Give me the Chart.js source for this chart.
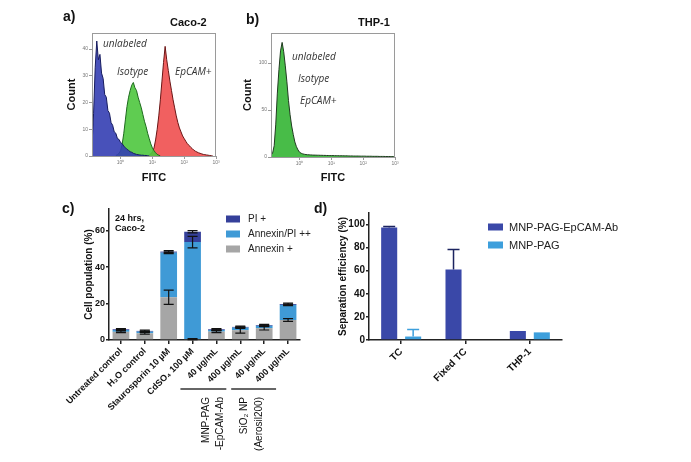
<!DOCTYPE html>
<html lang="en">
<head>
<meta charset="utf-8" />
<title>EpCAM capture figure</title>
<script src="https://cdn.jsdelivr.net/npm/chart.js@4.4.4/dist/chart.umd.min.js"></script>
<style>
  body { margin: 0; background: #fff; font-family: "Liberation Sans", Arial, sans-serif; }
  #fig { position: relative; width: 691px; height: 462px; overflow: hidden; }
  #fig canvas { position: absolute; }
  .txt { position: absolute; white-space: nowrap; color: #111; line-height: 1; }
  .lbl { font-weight: bold; font-size: 14px; }
  .ttl { font-weight: bold; font-size: 11px; }
  .it { font-style: italic; color: #333; font-family: "Open Sans", sans-serif; font-size: 10px; }
</style>
</head>
<body>
<div id="fig">
  <canvas id="chartA" width="170" height="200" style="left:60px;top:0px"></canvas>
  <canvas id="chartB" width="170" height="200" style="left:230px;top:0px"></canvas>
  <canvas id="chartC" width="290" height="267" style="left:60px;top:195px"></canvas>
  <canvas id="chartD" width="326" height="267" style="left:334px;top:195px"></canvas>

  <div class="txt lbl" style="left:63px;top:9px">a)</div>
  <div class="txt ttl" style="left:170px;top:17px">Caco-2</div>
  <div class="txt it" style="left:103px;top:38px">unlabeled</div>
  <div class="txt it" style="left:117px;top:66px">Isotype</div>
  <div class="txt it" style="left:175px;top:66px">EpCAM+</div>

  <div class="txt lbl" style="left:246px;top:12px">b)</div>
  <div class="txt ttl" style="left:358px;top:17px">THP-1</div>
  <div class="txt it" style="left:292px;top:51px">unlabeled</div>
  <div class="txt it" style="left:298px;top:73px">Isotype</div>
  <div class="txt it" style="left:300px;top:95px">EpCAM+</div>

  <div class="txt lbl" style="left:62px;top:201px">c)</div>
  <div class="txt" style="left:115px;top:213px;font-size:9px;font-weight:bold;line-height:10px">24 hrs,<br>Caco-2</div>
  <div class="txt lbl" style="left:314px;top:201px">d)</div>
</div>

<script>
  // --- a) / b) flow histograms, x in log10(FITC) ---
  const logBins = [
    -0.90, -0.85, -0.80, -0.75, -0.70, -0.65, -0.60, -0.55, -0.50, -0.45,
    -0.40, -0.35, -0.30, -0.25, -0.20, -0.15, -0.10, -0.05, 0.00, 0.05,
    0.10, 0.15, 0.20, 0.25, 0.30, 0.35, 0.40, 0.45, 0.50, 0.55,
    0.60, 0.65, 0.70, 0.75, 0.80, 0.85, 0.90, 0.95, 1.00, 1.05,
    1.10, 1.15, 1.20, 1.25, 1.30, 1.35, 1.40, 1.45, 1.50, 1.55,
    1.60, 1.65, 1.70, 1.75, 1.80, 1.85, 1.90, 1.95, 2.00, 2.05,
    2.10, 2.15, 2.20, 2.25, 2.30, 2.35, 2.40, 2.45, 2.50, 2.55,
    2.60, 2.65, 2.70, 2.75, 2.80, 2.85, 2.90, 2.95, 3.00
  ];
  const decades = [0, 1, 2, 3];
  const decadeLabels = ['10⁰', '10¹', '10²', '10³'];

  const cacoUnlabeled = [
    4, 16, 33, 43, 36, 38, 31, 29, 23, 22,
    17, 16, 12.5, 11.5, 9, 8.5, 6.5, 6.2, 5, 4.6,
    3.7, 3.1, 2.5, 2.1, 1.6, 1.4, 1.0, 0.8, 0.6, 0.5,
    0.4, 0.3, 0.3, 0.2, 0.2, 0.1, 0, null, null, null,
    null, null, null, null, null, null, null, null, null, null,
    null, null, null, null, null, null, null, null, null, null,
    null, null, null, null, null, null, null, null, null, null,
    null, null, null, null, null, null, null, null, null
  ];
  const cacoIsotype = [
    null, null, null, null, null, null, null, null, null, null,
    null, null, null, null, null, 0.2, 0.5, 1, 2, 4.5,
    8.5, 13.5, 18.5, 22, 24.5, 26.5, 27.5, 25.5, 24.5, 22,
    20, 18, 15.5, 13, 11, 8.5, 6.5, 4.5, 3, 2,
    1.2, 0.6, 0.3, 0, null, null, null, null, null, null,
    null, null, null, null, null, null, null, null, null, null,
    null, null, null, null, null, null, null, null, null, null,
    null, null, null, null, null, null, null, null, null
  ];
  const cacoEpcam = [
    null, null, null, null, null, null, null, null, null, null,
    null, null, null, null, null, null, null, null, null, null,
    null, null, null, null, null, null, null, null, null, null,
    null, null, null, null, null, null, 0.3, 0.8, 1.5, 3,
    6, 10, 15, 21, 28, 35, 41, 36, 32, 28,
    24.5, 21, 18, 15, 12.5, 10.5, 9, 7.5, 6.5, 5.5,
    4.6, 4, 3.3, 2.8, 2.2, 1.8, 1.5, 1.2, 1, 0.8,
    0.6, 0.5, 0.4, 0.3, 0.2, 0.1, 0, null, null
  ];
  const thpCounts = [
    2, 4, 12, 35, 68, 93, 113, 122, 112, 97,
    80, 60, 45, 33, 24, 16, 11, 7.5, 5, 4,
    3.3, 2.9, 2.6, 2.4, 2.3, 2.2, 2.1, 2, 2, 1.9,
    1.9, 1.8, 1.8, 1.7, 1.7, 1.6, 1.6, 1.5, 1.5, 1.5,
    1.4, 1.4, 1.4, 1.3, 1.3, 1.3, 1.2, 1.2, 1.2, 1.1,
    1.1, 1.1, 1, 1, 1, 1, 0.9, 0.9, 0.9, 0.9,
    0.8, 0.8, 0.8, 0.8, 0.7, 0.7, 0.7, 0.7, 0.6, 0.6,
    0.6, 0.6, 0.5, 0.5, 0.5, 0.5, 0.4, 0.4, 0.4
  ];

  // --- c) viability, stacked ---
  const treatments = ['Untreated control', 'H₂O control', 'Staurosporin 10 µM', 'CdSO₄ 100 µM',
    '40 µg/mL', '400 µg/mL', '40 µg/mL', '400 µg/mL'];
  const annexinOnly = [4.5, 3.7, 23.5, 0.5, 4.6, 5.4, 6.5, 11];
  const annexinPi = [1.0, 0.9, 24.5, 53.3, 0.9, 1.4, 1.3, 8.3];
  const piOnly = [0.4, 0.4, 0.6, 5.7, 0.4, 0.4, 0.4, 0.5];
  const annexinOnlySd = [0.5, 0.5, 3.9, 0.3, 0.5, 1.6, 1.0, 0.8];
  const annexinPiSd = [0.3, 0.3, 0.5, 3.2, 0.4, 0.4, 0.4, 0.4];
  const piOnlySd = [0.4, 0.4, 0.6, 0.6, 0.4, 0.4, 0.4, 0.5];
  const groupNames = [['MNP-PAG', '-EpCAM-Ab'], ['SiO₂ NP', '(Aerosil200)']];
  const groupSpans = [[4, 5], [6, 7]];

  // --- d) separation efficiency ---
  const cellTypes = ['TC', 'Fixed TC', 'THP-1'];
  const effAb = [97.5, 61, 7.8];
  const effPlain = [3, 0, 6.6];
  const effAbSd = [0.8, 17.4, 0];
  const effPlainSd = [6.2, 0, 0];

  Chart.defaults.font.family = '"Liberation Sans", Arial, sans-serif';
  Chart.defaults.color = '#111';
  Chart.defaults.animation = false;
  Chart.defaults.plugins.legend.display = false;
  Chart.defaults.plugins.tooltip.enabled = false;

  const framePlugin = {
    id: 'frame',
    afterDraw(chart) {
      const a = chart.chartArea, ctx = chart.ctx;
      ctx.save();
      ctx.strokeStyle = '#9a9a9a';
      ctx.lineWidth = 1;
      ctx.strokeRect(a.left + 0.5, a.top + 0.5, a.right - a.left - 1, a.bottom - a.top);
      ctx.restore();
    }
  };

  const errorBarPlugin = {
    id: 'errorBars',
    afterDatasetsDraw(chart, args, o) {
      const ctx = chart.ctx, y = chart.scales.y;
      chart.data.datasets.forEach((ds, di) => {
        if (!ds.errors) return;
        chart.getDatasetMeta(di).data.forEach((bar, i) => {
          const sd = ds.errors[i];
          if (!sd) return;
          const d = y.getPixelForValue(0) - y.getPixelForValue(sd);
          const hi = bar.y - d, lo = o.mode === 'up' ? bar.y : bar.y + d;
          ctx.save();
          ctx.strokeStyle = ds.errColor || o.color;
          ctx.lineWidth = o.width;
          ctx.beginPath();
          ctx.moveTo(bar.x, lo); ctx.lineTo(bar.x, hi);
          ctx.moveTo(bar.x - o.cap, hi); ctx.lineTo(bar.x + o.cap, hi);
          if (o.mode !== 'up') { ctx.moveTo(bar.x - o.cap, lo); ctx.lineTo(bar.x + o.cap, lo); }
          ctx.stroke();
          ctx.restore();
        });
      });
    }
  };

  const boxLegendPlugin = {
    id: 'boxLegend',
    afterDraw(chart, args, o) {
      const ctx = chart.ctx;
      let items = chart.data.datasets.map(d => ({ text: d.label, color: d.backgroundColor }));
      if (o.reverse) items = items.reverse();
      ctx.save();
      ctx.font = o.font;
      ctx.textBaseline = 'middle';
      items.forEach((it, k) => {
        const cy = o.y + k * o.rowH;
        ctx.fillStyle = it.color;
        ctx.fillRect(o.x, cy - o.boxH / 2, o.boxW, o.boxH);
        ctx.fillStyle = '#222';
        ctx.fillText(it.text, o.x + o.boxW + o.gap, cy + 0.5);
      });
      ctx.restore();
    }
  };

  // brackets + vertical group names under panel c
  const groupPlugin = {
    id: 'groups',
    afterDraw(chart, args, o) {
      const x = chart.scales.x, ctx = chart.ctx;
      ctx.save();
      ctx.strokeStyle = '#333';
      ctx.lineWidth = 1.5;
      ctx.fillStyle = '#111';
      ctx.font = o.font;
      ctx.textAlign = 'right';
      ctx.textBaseline = 'middle';
      groupSpans.forEach((span, g) => {
        const p0 = x.getPixelForValue(span[0]), p1 = x.getPixelForValue(span[1]);
        ctx.beginPath();
        ctx.moveTo(p0 + o.lineFrom[g], o.lineY);
        ctx.lineTo(p1 + o.lineTo[g], o.lineY);
        ctx.stroke();
        groupNames[g].forEach((t, k) => {
          ctx.save();
          ctx.translate(p0 + o.textDx[g][k], o.textY);
          ctx.rotate(-Math.PI / 2);
          ctx.fillText(t, 0, 0);
          ctx.restore();
        });
      });
      ctx.restore();
    }
  };

  function histSet(label, counts, fill, edge) {
    const pts = [];
    counts.forEach((c, i) => { if (c !== null) pts.push({ x: logBins[i], y: c }); });
    return { label, data: pts, backgroundColor: fill, borderColor: edge, borderWidth: 1,
      fill: 'origin', pointRadius: 0, tension: 0 };
  }

  function logAxis(height, titlePad) {
    return {
      type: 'linear', min: -0.9, max: 3,
      afterBuildTicks: s => { s.ticks = decades.map(v => ({ value: v })); },
      ticks: { font: { size: 5 }, color: '#777', padding: 1, callback: (v, i) => decadeLabels[i] },
      grid: { drawOnChartArea: false, tickLength: 3, color: '#9a9a9a' },
      border: { color: '#9a9a9a' },
      title: { display: true, text: 'FITC', font: { size: 11, weight: 'bold' }, color: '#111',
        padding: { top: 0, bottom: titlePad } },
      afterFit: s => { s.height = height; }
    };
  }

  function countAxis(max, step, width, titlePad) {
    return {
      min: 0, max: max,
      ticks: { stepSize: step, includeBounds: false, font: { size: 5 }, color: '#777', padding: 1 },
      grid: { drawOnChartArea: false, tickLength: 3, color: '#9a9a9a' },
      border: { color: '#9a9a9a' },
      title: { display: true, text: 'Count', font: { size: 11, weight: 'bold' }, color: '#111',
        padding: { top: titlePad, bottom: 0 } },
      afterFit: s => { s.width = width; }
    };
  }

  new Chart(document.getElementById('chartA'), {
    type: 'line',
    data: { datasets: [
      histSet('unlabeled', cacoUnlabeled, 'rgba(52,62,178,0.9)', '#161b5e'),
      histSet('Isotype', cacoIsotype, 'rgba(78,198,62,0.9)', '#1d6a1d'),
      histSet('EpCAM+', cacoEpcam, 'rgba(240,82,82,0.92)', '#6a1414')
    ] },
    options: {
      responsive: false,
      layout: { padding: { top: 33, right: 14, left: 0, bottom: 0 } },
      scales: { x: logAxis(44, 15), y: countAxis(46, 10, 32, 5) }
    },
    plugins: [framePlugin]
  });

  new Chart(document.getElementById('chartB'), {
    type: 'line',
    data: { datasets: [
      histSet('unlabeled / Isotype / EpCAM+', thpCounts, 'rgba(62,184,62,0.95)', '#1f3a1f')
    ] },
    options: {
      responsive: false,
      layout: { padding: { top: 33, right: 5, left: 0, bottom: 0 } },
      scales: { x: logAxis(43, 15), y: countAxis(132, 50, 41, 11) }
    },
    plugins: [framePlugin]
  });

  const prismX = (size, height) => ({
    grid: { display: true, drawOnChartArea: false, offset: false, tickLength: 4, color: '#222', lineWidth: 1.5 },
    border: { color: '#222', width: 1.5 },
    ticks: { minRotation: 45, maxRotation: 45, autoSkip: false, font: { size: size, weight: 'bold' }, padding: 2 },
    afterFit: s => { s.height = height; s.paddingLeft = 0; s.paddingRight = 0; }
  });

  const prismY = (max, size, title, titlePad, width) => ({
    min: 0, max: max,
    ticks: { stepSize: 20, includeBounds: false, font: { size: size, weight: 'bold' }, padding: 1 },
    grid: { drawOnChartArea: false, tickLength: 3, color: '#222', lineWidth: 1.5 },
    border: { color: '#222', width: 1.5 },
    title: { display: true, text: title, font: { size: 10, weight: 'bold' }, padding: { top: titlePad, bottom: 0 } },
    afterFit: s => { s.width = width; }
  });

  const xC = prismX(9, 122); xC.stacked = true;
  const yC = prismY(72, 9, 'Cell population (%)', 23, 49); yC.stacked = true;

  new Chart(document.getElementById('chartC'), {
    type: 'bar',
    data: {
      labels: treatments,
      datasets: [
        { label: 'Annexin +', data: annexinOnly, backgroundColor: '#a6a6a6', errors: annexinOnlySd },
        { label: 'Annexin/PI ++', data: annexinPi, backgroundColor: '#3f9ad6', errors: annexinPiSd },
        { label: 'PI +', data: piOnly, backgroundColor: '#35409a', errors: piOnlySd }
      ]
    },
    options: {
      responsive: false,
      layout: { padding: { top: 14, right: 50, left: 0, bottom: 0 } },
      datasets: { bar: { barPercentage: 0.7, categoryPercentage: 1 } },
      scales: { x: xC, y: yC },
      plugins: {
        errorBars: { color: '#111', cap: 5, width: 1.2, mode: 'both' },
        boxLegend: { x: 166, y: 24, rowH: 15, boxW: 14, boxH: 7, gap: 8, font: '10px "Liberation Sans", Arial, sans-serif', reverse: true },
        groups: { lineY: 194, lineFrom: [-36, -33], lineTo: [-14, -12], textY: 202,
          textDx: [[-10, 4], [-20, -5]], font: '10px "Liberation Sans", Arial, sans-serif' }
      }
    },
    plugins: [errorBarPlugin, boxLegendPlugin, groupPlugin]
  });

  new Chart(document.getElementById('chartD'), {
    type: 'bar',
    data: {
      labels: cellTypes,
      datasets: [
        { label: 'MNP-PAG-EpCAM-Ab', data: effAb, backgroundColor: '#3a48a8', errors: effAbSd, errColor: '#1c2460' },
        { label: 'MNP-PAG', data: effPlain, backgroundColor: '#3d9fdc', errors: effPlainSd, errColor: '#3d9fdc' }
      ]
    },
    options: {
      responsive: false,
      layout: { padding: { top: 18, right: 98, left: 0, bottom: 0 } },
      datasets: { bar: { barPercentage: 0.67, categoryPercentage: 0.745 } },
      scales: { x: prismX(10, 122), y: prismY(110, 10, 'Separation efficiency (%)', 3, 35) },
      plugins: {
        errorBars: { color: '#111', cap: 6, width: 1.5, mode: 'up' },
        boxLegend: { x: 154, y: 32, rowH: 18, boxW: 15, boxH: 7, gap: 6, font: '11px "Liberation Sans", Arial, sans-serif' }
      }
    },
    plugins: [errorBarPlugin, boxLegendPlugin]
  });
</script>
</body>
</html>
